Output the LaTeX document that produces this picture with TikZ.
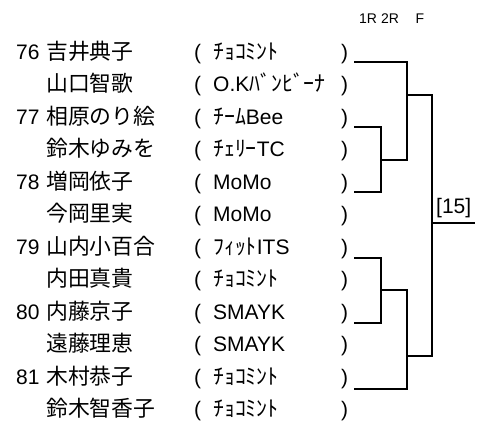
\documentclass[tikz,border=0pt]{standalone}
\usepackage{fontspec}
\setmainfont{Liberation Sans}
\newfontfamily\jp[Scale=1.04]{Noto Sans CJK JP}

\begin{document}
\begin{tikzpicture}[x=1pt,y=-1pt,
    txt/.style={anchor=base west,inner sep=0pt,font=\fontsize{21}{21}\selectfont},
    rnd/.style={anchor=base,inner sep=0pt,font=\fontsize{14}{14}\selectfont},
    bk/.style={line width=1.5pt}]
    \useasboundingbox (0,0) rectangle (489,421);
    % rounds
    \node[rnd] (r1) at (368,23.5) {1R};
    \node[rnd] (r2) at (390,23.5) {2R};
    \node[rnd] (rf) at (420,23.5) {F};
    \begin{scope}[xshift=16pt]
	\node[txt] (no76) at (0,59) {76};
	\node[txt] (no77) at (0,124) {77};
	\node[txt] (no78) at (0,189) {78};
	\node[txt] (no79) at (0,254) {79};
	\node[txt] (no80) at (0,319) {80};
	\node[txt] (no81) at (0,384) {81};
    \end{scope}
    \begin{scope}[xshift=46pt]
	\node[txt] (pl1) at (0,59) {\jp 吉井典子};
	\node[txt] (pl2) at (0,91) {\jp 山口智歌};
	\node[txt] (pl3) at (0,124) {\jp 相原のり絵};
	\node[txt] (pl4) at (0,156) {\jp 鈴木ゆみを};
	\node[txt] (pl5) at (0,189) {\jp 増岡依子};
	\node[txt] (pl6) at (0,221) {\jp 今岡里実};
	\node[txt] (pl7) at (0,254) {\jp 山内小百合};
	\node[txt] (pl8) at (0,286) {\jp 内田真貴};
	\node[txt] (pl9) at (0,319) {\jp 内藤京子};
	\node[txt] (pl10) at (0,351) {\jp 遠藤理恵};
	\node[txt] (pl11) at (0,384) {\jp 木村恭子};
	\node[txt] (pl12) at (0,416) {\jp 鈴木智香子};
    \end{scope}
    \begin{scope}[xshift=194pt]
	\foreach \y [count=\i] in {59,91,124,156,189,221,254,286,319,351,384,416} {
	    \node[txt] (op\i) at (0,\y) {(};
	    \node[txt] (cp\i) at (147,\y) {)};
	}
	\node[txt] (cl1) at (19,59) {\jp ﾁｮｺﾐﾝﾄ};
	\node[txt] (cl2) at (19,91) {O.K{\jp ﾊﾞﾝﾋﾞｰﾅ}};
	\node[txt] (cl3) at (19,124) {{\jp ﾁｰﾑ}Bee};
	\node[txt] (cl4) at (19,156) {{\jp ﾁｪﾘｰ}TC};
	\node[txt] (cl5) at (19,189) {MoMo};
	\node[txt] (cl6) at (19,221) {MoMo};
	\node[txt] (cl7) at (19,254) {{\jp ﾌｨｯﾄ}ITS};
	\node[txt] (cl8) at (19,286) {\jp ﾁｮｺﾐﾝﾄ};
	\node[txt] (cl9) at (19,319) {SMAYK};
	\node[txt] (cl10) at (19,351) {SMAYK};
	\node[txt] (cl11) at (19,384) {\jp ﾁｮｺﾐﾝﾄ};
	\node[txt] (cl12) at (19,416) {\jp ﾁｮｺﾐﾝﾄ};
    \end{scope}
    % bracket
    \coordinate (e76) at (354,62);
    \coordinate (e77) at (354,127);
    \coordinate (e78) at (354,192);
    \coordinate (e79) at (354,258);
    \coordinate (e80) at (354,323);
    \coordinate (e81) at (354,389);
    \coordinate (m77) at (381,160);
    \coordinate (m79) at (381,290);
    \coordinate (t1) at (407,95);
    \coordinate (t2) at (407,356);
    \coordinate (fin) at (432,356);
    \draw[bk] (e76) -| (t1) |- (m77);
    \draw[bk] (e77) -| (m77) |- (e78);
    \draw[bk] (e79) -| (m79) |- (e80);
    \draw[bk] (e81) -| (t2) |- (m79);
    \draw[bk] (t1) -| (fin) -- (t2);
    \node[anchor=south west,inner xsep=4pt,inner ysep=5pt,font=\fontsize{21}{21}\selectfont] (res) at (432,223) {[15]};
    \draw[line width=1.2pt] (res.south west) -- (res.south east);
\end{tikzpicture}
\end{document}
